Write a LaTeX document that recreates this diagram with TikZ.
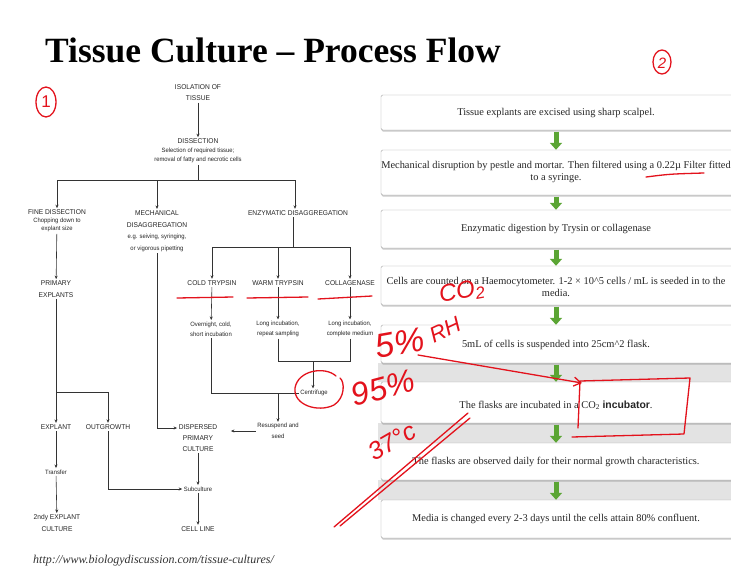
\documentclass[tikz,border=0pt]{standalone}
\usepackage{fontspec}
\setmainfont{Liberation Serif}
\setsansfont{Liberation Sans}
\newfontfamily\lsans[FakeStretch=0.95]{Liberation Sans}
\newfontfamily\handf{Liberation Sans}
\usetikzlibrary{arrows.meta,calc,shadows}
\newcommand{\lowtxt}[1]{{\fontsize{6.2}{8}\selectfont #1}}
\definecolor{pen}{HTML}{E3121C}
\definecolor{garrowc}{HTML}{5BA534}
\begin{document}
\begin{tikzpicture}[x=1pt,y=-1pt,
  lab/.style={font=\lsans\fontsize{7}{9}\selectfont, align=center, inner sep=1.5pt, text=black!85},
  arr/.style={draw=black!80, line width=0.6pt, -{Stealth[length=3.5pt,width=3pt]}},
  ln/.style={draw=black!80, line width=0.6pt},
  rbox/.style={draw=black!35, fill=white, rounded corners=1.5pt, minimum width=358pt, inner sep=0pt,
    drop shadow={shadow xshift=0.5pt, shadow yshift=-1.6pt, opacity=0.35, fill=black!60}},
  rtext/.style={align=center, inner sep=0pt, font=\fontsize{10.4}{12.5}\selectfont, text=black!85},
  garr/.style={draw=garrowc, line width=5pt, -{Triangle[width=12pt,length=7pt]}, shorten <=1.5pt},
  strip/.style={fill=black!11, draw=none},
  redpen/.style={draw=pen, line width=1.3pt, line cap=round, line join=round},
  hand/.style={text=pen, font=\handf\itshape, inner sep=0pt}
]
\useasboundingbox (0,0) rectangle (731,570);
\fill[white] (0,0) rectangle (731,570);
\clip (0,0) rectangle (731,570);

% title and source
\node[font=\bfseries\fontsize{35.5}{40}\selectfont, anchor=base west, inner sep=0pt] (title) at (45,62) {Tissue Culture – Process Flow};
\node[font=\itshape\fontsize{12}{14}\selectfont, anchor=base west, inner sep=0pt, text=black!80] (src) at (33,563) {http://www.biologydiscussion.com/tissue-cultures/};

% ---------- right panel ----------
\fill[strip] (378,363) rectangle (731,382);
\fill[strip] (378,423) rectangle (731,443);
\fill[strip] (378,480) rectangle (731,500);

\node[rbox, minimum height=35pt] (r1) at (560,112.5) {};
\node[rbox, minimum height=45pt] (r2) at (560,172.5) {};
\node[rbox, minimum height=38pt] (r3) at (560,229) {};
\node[rbox, minimum height=39pt] (r4) at (560,285.5) {};
\node[rbox, minimum height=38pt] (r5) at (560,344) {};
\node[rbox, minimum height=41pt] (r6) at (560,402.5) {};
\node[rbox, minimum height=37pt] (r7) at (560,461.5) {};
\node[rbox, minimum height=38pt] (r8) at (560,519) {};

\node[rtext] (t1) at (556,113) {Tissue explants are excised using sharp scalpel.};
\node[rtext] (t2) at (556,172) {Mechanical disruption by pestle and mortar. Then filtered using a 0.22µ Filter fitted\\to a syringe.};
\node[rtext] (t3) at (556,229) {Enzymatic digestion by Trysin or collagenase};
\node[rtext] (t4) at (556,287) {Cells are counted on a Haemocytometer. 1-2 × 10\textasciicircum5 cells / mL is seeded in to the\\media.};
\node[rtext] (t5) at (556,345) {5mL of cells is suspended into 25cm\textasciicircum2 flask.};
\node[rtext] (t6) at (556,405) {The flasks are incubated in a CO\textsubscript{2} {\sffamily\bfseries incubator}.};
\node[rtext] (t7) at (556,462) {The flasks are observed daily for their normal growth characteristics.};
\node[rtext] (t8) at (556,519) {Media is changed every 2-3 days until the cells attain 80\% confluent.};

\draw[garr] (r1.south -| t1) -- (r2.north -| t1);
\draw[garr] (r2.south -| t1) -- (r3.north -| t1);
\draw[garr] (r3.south -| t1) -- (r4.north -| t1);
\draw[garr] (r4.south -| t1) -- (r5.north -| t1);
\draw[garr] (r5.south -| t1) -- (r6.north -| t1);
\draw[garr] (r6.south -| t1) -- (r7.north -| t1);
\draw[garr] (r7.south -| t1) -- (r8.north -| t1);

% ---------- left flowchart ----------
\node[lab, font=\lsans\fontsize{7}{11}\selectfont] (iso) at (198,93) {ISOLATION OF\\TISSUE};
\node[lab] (dis) at (198,151) {DISSECTION\\\lowtxt{Selection of required tissue;}\\\lowtxt{removal of fatty and necrotic cells}};
\node[lab, font=\lsans\fontsize{7}{8}\selectfont] (fine) at (57,221) {FINE DISSECTION\\\lowtxt{Chopping down to}\\\lowtxt{explant size}};
\node[lab, font=\lsans\fontsize{7}{11.5}\selectfont] (mech) at (157,231) {MECHANICAL\\DISAGGREGATION\\\lowtxt{e.g. seiving, syringing,}\\\lowtxt{or vigorous pipetting}};
\node[lab] (enz) at (298,213) {ENZYMATIC DISAGGREGATION};
\node[lab, font=\lsans\fontsize{7}{11.5}\selectfont] (prim) at (56,289) {PRIMARY\\EXPLANTS};
\node[lab] (cold) at (212,283) {COLD TRYPSIN};
\node[lab] (warm) at (278,283) {WARM TRYPSIN};
\node[lab] (coll) at (350,283) {COLLAGENASE};
\node[lab, font=\lsans\fontsize{7}{10}\selectfont] (cd) at (211,329) {\lowtxt{Overnight, cold,}\\\lowtxt{short incubation}};
\node[lab, font=\lsans\fontsize{7}{10}\selectfont] (wd) at (278,329) {\lowtxt{Long incubation,}\\\lowtxt{repeat sampling}};
\node[lab, font=\lsans\fontsize{7}{10}\selectfont] (kd) at (350,329) {\lowtxt{Long incubation,}\\\lowtxt{complete medium}};
\node[lab] (cen) at (314,393) {\lowtxt{Centrifuge}};
\node[lab, font=\lsans\fontsize{7}{10.5}\selectfont] (res) at (278,431) {\lowtxt{Resuspend and}\\\lowtxt{seed}};
\node[lab, font=\lsans\fontsize{7}{11}\selectfont] (disp) at (198,438) {DISPERSED\\PRIMARY\\CULTURE};
\node[lab] (expl) at (56,427) {EXPLANT};
\node[lab] (outg) at (108,427) {OUTGROWTH};
\node[lab] (trans) at (56,472) {\lowtxt{Transfer}};
\node[lab, font=\lsans\fontsize{7}{11.5}\selectfont] (snd) at (57,523) {2ndy EXPLANT\\CULTURE};
\node[lab] (subc) at (198,489) {\lowtxt{Subculture}};
\node[lab] (cell) at (198,529) {CELL LINE};

\draw[arr] (iso) -- (dis);
\coordinate (b1) at (198,180);
\draw[ln] (dis) -- (b1);
\draw[arr] (b1) -| (fine);
\draw[arr] (b1) -| (mech);
\draw[arr] (b1) -| (enz.north -| 295,0);
\draw[arr] (fine) -- (prim);
\draw[arr] (prim) -- (expl);
\coordinate (b2) at (56,392);
\draw[arr] (b2) -| (outg);
\draw[arr] (mech) |- ($(disp.west)+(0,-10)$);
\coordinate (b3) at (293,247);
\draw[ln] (enz.south -| b3) -- (b3);
\draw[arr] (b3) -| (cold);
\draw[arr] (b3) -| (warm);
\draw[arr] (b3) -| (coll);
\draw[arr] (cold) -- (cd);
\draw[arr] (warm) -- (wd);
\draw[arr] (coll) -- (kd);
\draw[ln] (cd) |- (cen);
\coordinate (b4) at (313,361);
\draw[ln] (wd) |- (b4);
\draw[ln] (kd) |- (b4);
\draw[arr] (b4) -- (b4 |- cen.north);
\coordinate (b5) at (res.north |- cen);
\draw[arr] (b5) -- (res);
\draw[arr] (res.west) -- ($(res.west -| disp.east)+(12,0)$);
\draw[arr] (disp) -- (subc);
\draw[arr] (subc) -- (cell);
\draw[arr] (outg) |- (subc);
\draw[arr] (expl) -- (trans);
\draw[arr] (trans) -- (snd);

% ---------- red annotations ----------
\draw[redpen] (46,102) ellipse (10 and 15);
\node[hand, font=\handf\fontsize{17}{17}\selectfont] (one) at (46,102) {1};
\draw[redpen] (662,62) ellipse (9 and 12);
\node[hand, font=\handf\itshape\fontsize{15}{15}\selectfont] (two) at (662,63) {2};
\draw[redpen] (177,298) -- (233,297);
\draw[redpen] (247,298) -- (308,297);
\draw[redpen] (318,299) -- (372,296);
\draw[redpen] (646,177) .. controls (670,174) .. (704,173);
\draw[redpen] (336,376) .. controls (325,366) and (298,370) .. (295,388) .. controls (293,405) and (318,413) .. (334,405) .. controls (345,398) and (345,382) .. (340,378);
\node[hand, font=\handf\itshape\fontsize{34}{34}\selectfont, rotate=10] (p5) at (400,343) {5\%};
\node[hand, font=\handf\itshape\fontsize{24}{24}\selectfont, rotate=10] (co2) at (462,292) {CO\textsubscript{2}};
\node[hand, font=\handf\itshape\fontsize{22}{22}\selectfont, rotate=25] (rh) at (445,330) {RH};
\node[hand, font=\handf\itshape\fontsize{32}{32}\selectfont, rotate=15] (p95) at (383,388) {95\%};
\node[hand, font=\handf\itshape\fontsize{25}{25}\selectfont, rotate=30] (t37) at (392,441) {37°c};
\draw[redpen, -{Straight Barb[length=7pt,width=9pt]}] (418,355) -- (582,383);
\draw[redpen] (578,428) -- (580,381) -- (690,378) -- (684,434) -- (572,437);
\draw[redpen] (334,527) -- (468,413);
\draw[redpen] (340,526) -- (470,418);
\end{tikzpicture}
\end{document}
